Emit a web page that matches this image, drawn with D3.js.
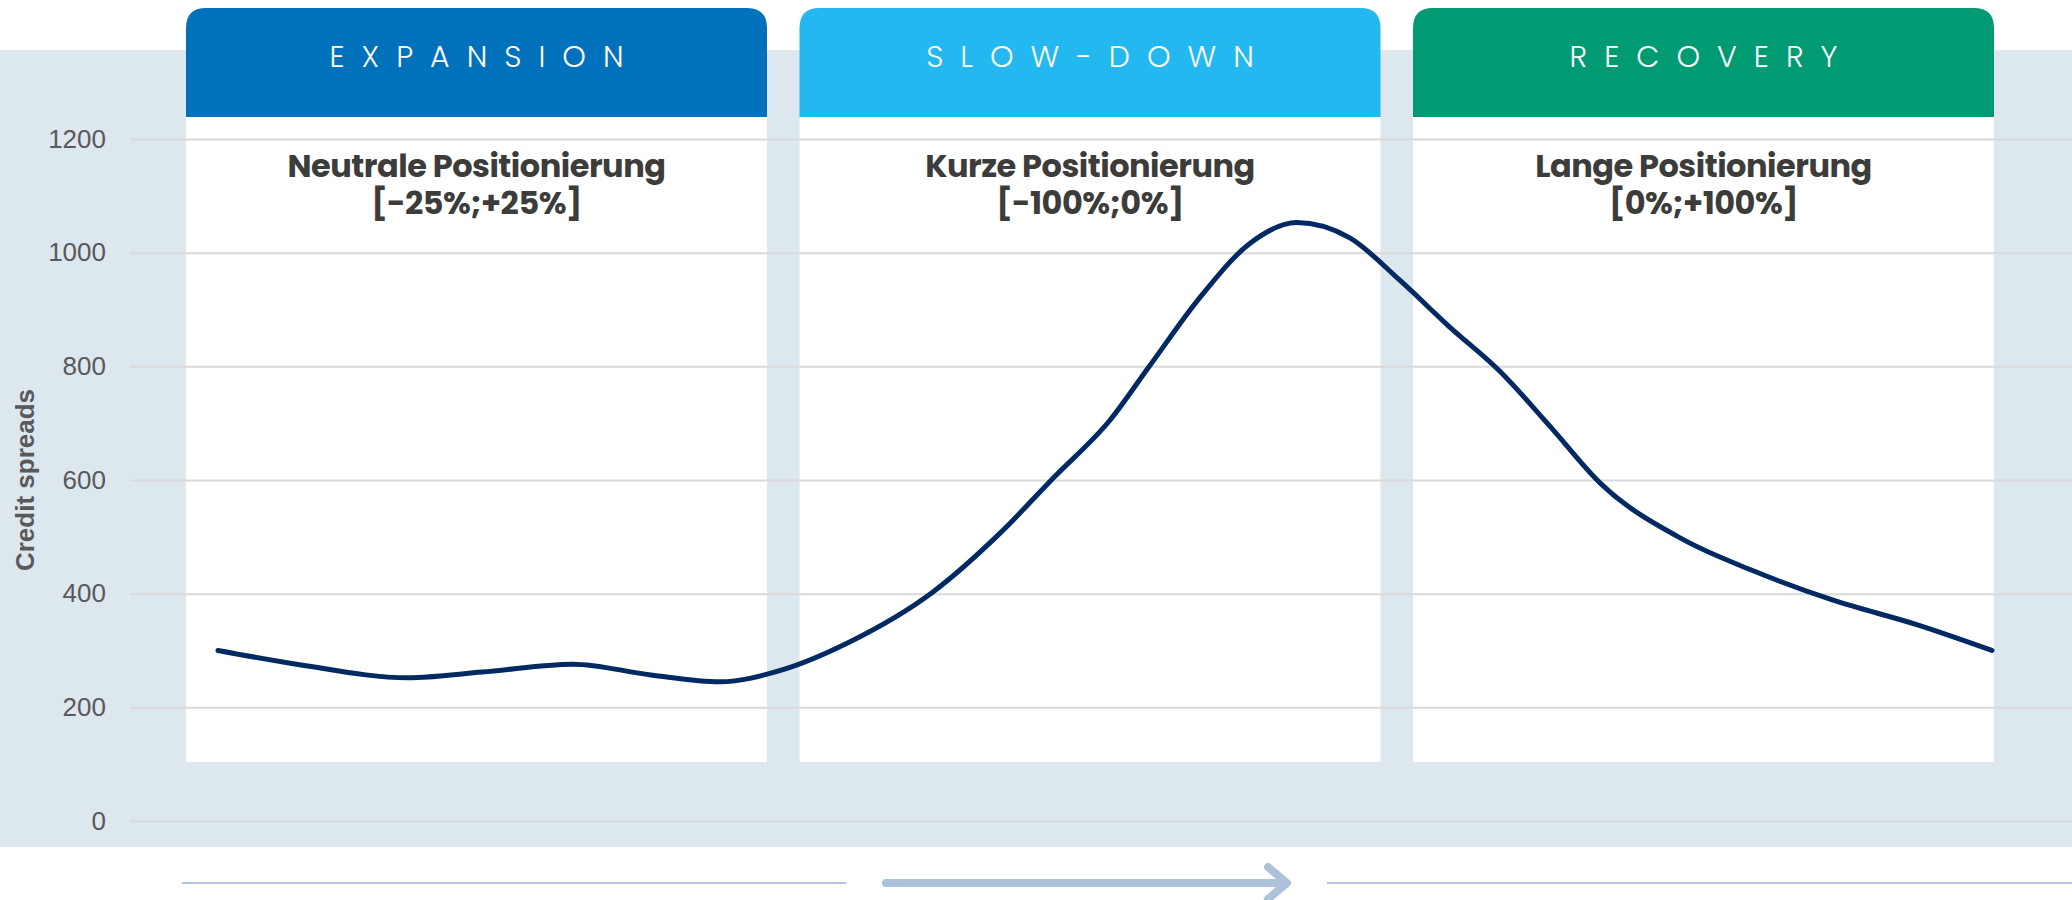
<!DOCTYPE html>
<html>
<head>
<meta charset="utf-8">
<script src="https://cdn.jsdelivr.net/npm/d3@7"></script>
<style>
  html, body { margin: 0; padding: 0; background: #fff; }
  svg { display: block; }
</style>
</head>
<body>
<div id="chart"></div>
<script>
// cycle position (0..100) and credit spread values
var cycleX = [0, 4.6, 10.7, 14.9, 20, 24.4, 28.3, 31.8, 35.6, 40.3, 44.1, 47.1, 50.3, 52.5,
              55.4, 58.2, 60.8, 63.8, 66.6, 69.4, 72.3, 75.1, 77.9, 82.6, 86.4, 91, 95.8, 100];
var spreads = [300, 275, 252, 262, 276, 257, 245, 266, 315, 403, 507, 604, 706, 800,
               923, 1017, 1053, 1026, 952, 870, 790, 694, 595, 495, 442, 389, 345, 300];
var yTicks = [0, 200, 400, 600, 800, 1000, 1200];

var phaseNames = ["EXPANSION", "SLOW-DOWN", "RECOVERY"];
var phaseTitles = ["Neutrale Positionierung", "Kurze Positionierung", "Lange Positionierung"];
var phaseRanges = ["[-25%;+25%]", "[-100%;0%]", "[0%;+100%]"];
var phaseColors = ["#0271bb", "#24b8f0", "#019b73"];

var W = 2072, H = 900;
var svg = d3.select("#chart").append("svg").attr("width", W).attr("height", H);

var x = d3.scaleLinear().domain([0, 100]).range([218, 1992]);
var y = d3.scaleLinear().domain([0, 1200]).range([821, 139]);

// light background band
svg.append("rect").attr("x", 0).attr("y", 50).attr("width", W).attr("height", 797)
    .attr("fill", "#dde7ee");

// phase panels
var panelLeft = 186, panelW = 581, panelGap = 32.5;
var headTop = 8, headBottom = 117, panelBottom = 762, r = 20;

var panels = svg.selectAll(".panel").data(phaseNames).enter().append("g")
    .attr("class", "panel")
    .attr("transform", function (d, i) { return "translate(" + (panelLeft + i * (panelW + panelGap)) + ",0)"; });

panels.append("rect")
    .attr("x", 0).attr("y", headBottom).attr("width", panelW).attr("height", panelBottom - headBottom)
    .attr("fill", "#fff");

panels.append("path")
    .attr("d", "M0," + headBottom + " V" + (headTop + r) + " Q0," + headTop + " " + r + "," + headTop +
               " H" + (panelW - r) + " Q" + panelW + "," + headTop + " " + panelW + "," + (headTop + r) +
               " V" + headBottom + " Z")
    .attr("fill", function (d, i) { return phaseColors[i]; });

panels.append("text")
    .attr("x", panelW / 2 + 8.5).attr("y", 67)
    .attr("text-anchor", "middle")
    .style("font-family", "Poppins, Lato, sans-serif")
    .style("font-weight", 300)
    .style("font-size", "30px")
    .style("letter-spacing", "17px")
    .attr("fill", "#fff")
    .text(function (d) { return d; });

// gridlines + y axis
var yAxis = svg.append("g")
    .attr("transform", "translate(130,0)")
    .call(d3.axisLeft(y).tickValues(yTicks).tickFormat(d3.format("d")).tickSize(-(W - 130)).tickPadding(24));
yAxis.select(".domain").remove();
yAxis.selectAll(".tick line").attr("stroke", "#d9d9d9").attr("stroke-width", 2);
yAxis.selectAll(".tick text")
    .attr("fill", "#595959")
    .style("font-family", "Arial, 'Liberation Sans', sans-serif")
    .style("font-size", "26px");

svg.append("text")
    .attr("transform", "translate(34,480) rotate(-90)")
    .attr("text-anchor", "middle")
    .style("font-family", "Arial, 'Liberation Sans', sans-serif")
    .style("font-weight", "bold")
    .style("font-size", "26px")
    .attr("fill", "#595959")
    .text("Credit spreads");

// panel titles
var titles = svg.selectAll(".ptitle").data(phaseTitles).enter().append("text")
    .attr("class", "ptitle")
    .attr("text-anchor", "middle")
    .attr("x", function (d, i) { return panelLeft + i * (panelW + panelGap) + panelW / 2; })
    .style("font-family", "Poppins, 'Open Sans', sans-serif")
    .style("font-weight", "bold")
    .style("font-size", "32px")
    .style("letter-spacing", "-0.5px")
    .attr("fill", "#3c3c3b");
titles.append("tspan").attr("y", 177).text(function (d) { return d; });
titles.append("tspan")
    .attr("x", function (d, i) { return panelLeft + i * (panelW + panelGap) + panelW / 2; })
    .attr("y", 214)
    .text(function (d, i) { return phaseRanges[i]; });

// credit spread curve
var line = d3.line()
    .x(function (d, i) { return x(cycleX[i]); })
    .y(function (d) { return y(d); })
    .curve(d3.curveMonotoneX);

svg.append("path")
    .datum(spreads)
    .attr("d", line)
    .attr("fill", "none")
    .attr("stroke", "#012a62")
    .attr("stroke-width", 5)
    .attr("stroke-linecap", "round")
    .attr("stroke-linejoin", "round");

// bottom direction arrow
var arrowY = 883;
svg.append("line").attr("x1", 182).attr("x2", 846).attr("y1", arrowY).attr("y2", arrowY)
    .attr("stroke", "#b3c5da").attr("stroke-width", 2);
svg.append("line").attr("x1", 1327).attr("x2", W).attr("y1", arrowY).attr("y2", arrowY)
    .attr("stroke", "#b3c5da").attr("stroke-width", 2);
svg.append("line").attr("x1", 886).attr("x2", 1284).attr("y1", arrowY).attr("y2", arrowY)
    .attr("stroke", "#adc2da").attr("stroke-width", 8).attr("stroke-linecap", "round");
svg.append("path")
    .attr("d", "M1268," + (arrowY - 16) + " L1287," + arrowY + " L1268," + (arrowY + 16))
    .attr("fill", "none").attr("stroke", "#adc2da").attr("stroke-width", 8)
    .attr("stroke-linecap", "round").attr("stroke-linejoin", "round");
</script>
</body>
</html>
